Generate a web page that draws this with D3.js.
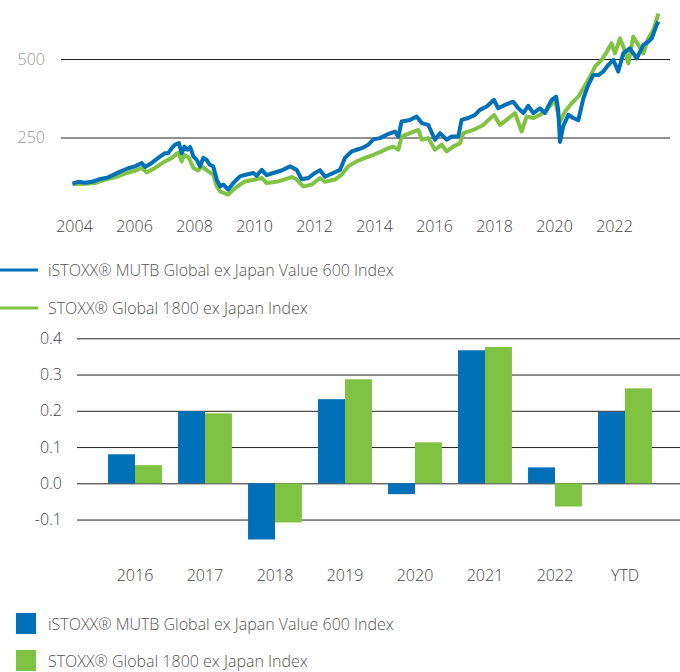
<!DOCTYPE html>
<html>
<head>
<meta charset="utf-8">
<script src="https://cdn.jsdelivr.net/npm/d3@7"></script>
<style>
body { margin: 0; background: #fff; }
text { font-family: "Open Sans", sans-serif; }
</style>
</head>
<body>
<script>
var width = 680;
var height = 672;
var blue = "#0070b9";
var green = "#80c242";

var seriesNames = ["iSTOXX® MUTB Global ex Japan Value 600 Index", "STOXX® Global 1800 ex Japan Index"];

// index levels (decimal years)
var mutbYears = [
  2003.95,2004.14,2004.37,2004.59,2004.81,2005.14,2005.48,2005.81,2006.03,2006.26,
  2006.37,2006.59,2006.81,2007.03,2007.14,2007.26,2007.37,2007.50,2007.59,2007.68,
  2007.79,2007.87,2007.98,2008.09,2008.20,2008.31,2008.42,2008.53,2008.64,2008.76,
  2008.87,2008.98,2009.14,2009.31,2009.53,2009.76,2009.98,2010.09,2010.26,2010.42,
  2010.64,2010.92,2011.20,2011.42,2011.59,2011.81,2012.03,2012.20,2012.37,2012.64,
  2012.87,2013.03,2013.26,2013.42,2013.59,2013.81,2013.98,2014.20,2014.42,2014.70,
  2014.81,2014.92,2015.20,2015.42,2015.59,2015.81,2016.03,2016.20,2016.42,2016.59,
  2016.81,2016.92,2017.14,2017.37,2017.53,2017.76,2018.00,2018.14,2018.37,2018.64,
  2018.81,2018.98,2019.14,2019.31,2019.53,2019.70,2019.92,2020.07,2020.14,2020.20,
  2020.31,2020.48,2020.64,2020.81,2020.98,2021.14,2021.31,2021.48,2021.64,2021.81,
  2021.98,2022.14,2022.31,2022.53,2022.76,2022.98,2023.14,2023.26,2023.42,2023.48];
var mutbValues = [
  103,109,106,109,116,123,139,152,158,169,
  156,169,185,200,200,216,227,232,200,221,
  211,220,190,179,158,185,179,163,158,116,
  94,100,84,105,126,132,137,128,147,130,
  137,145,158,147,117,121,137,146,125,137,
  147,185,206,211,216,227,244,248,259,269,
  253,301,306,317,296,290,243,264,243,253,
  253,306,312,322,338,349,370,343,354,364,
  343,328,351,328,343,328,370,380,338,236,
  287,322,312,305,375,417,449,449,460,481,
  497,460,518,534,502,545,555,566,608,619];

var globalYears = [
  2003.95,2004.37,2004.70,2005.03,2005.37,2005.70,2006.03,2006.26,2006.42,2006.70,
  2007.03,2007.26,2007.48,2007.59,2007.68,2007.83,2007.98,2008.14,2008.26,2008.48,
  2008.64,2008.76,2008.87,2009.14,2009.31,2009.53,2009.70,2010.03,2010.26,2010.42,
  2010.81,2011.26,2011.42,2011.64,2011.92,2012.20,2012.37,2012.70,2012.92,2013.14,
  2013.42,2013.70,2013.98,2014.26,2014.48,2014.64,2014.81,2014.92,2015.20,2015.48,
  2015.59,2015.81,2016.03,2016.26,2016.42,2016.64,2016.87,2016.98,2017.31,2017.64,
  2018.00,2018.20,2018.42,2018.70,2018.92,2019.09,2019.31,2019.53,2019.76,2019.98,
  2020.03,2020.14,2020.20,2020.37,2020.59,2020.81,2020.98,2021.14,2021.37,2021.59,
  2021.76,2021.92,2022.03,2022.20,2022.37,2022.48,2022.64,2022.81,2022.98,2023.14,
  2023.31,2023.48];
var globalValues = [
  102,103,105,116,123,135,144,153,139,153,
  174,185,202,174,195,185,153,145,158,142,
  132,94,78,68,84,100,110,116,121,105,
  110,124,116,94,100,121,109,116,132,158,
  174,185,195,206,216,221,211,253,264,274,
  243,248,211,227,206,221,232,264,274,290,
  322,290,306,328,269,317,312,322,338,364,
  370,322,301,333,359,380,407,433,476,497,
  523,550,518,566,523,486,571,545,518,566,
  592,645];

var lineYTicks = [250, 500];
var lineXTicks = [2004, 2006, 2008, 2010, 2012, 2014, 2016, 2018, 2020, 2022];

// annual returns
var barCategories = ["2016", "2017", "2018", "2019", "2020", "2021", "2022", "YTD"];
var mutbReturns = [0.080, 0.199, -0.155, 0.232, -0.030, 0.367, 0.044, 0.197];
var globalReturns = [0.050, 0.193, -0.108, 0.287, 0.113, 0.376, -0.064, 0.262];
var barYTicks = [-0.1, 0.0, 0.1, 0.2, 0.3, 0.4];

var svg = d3.select("body")
    .append("svg")
    .attr("width", width)
    .attr("height", height)
    .style("display", "block");

// ---------- line chart ----------
var x = d3.scaleLinear().domain([2004, 2022]).range([74, 614]);
var y = d3.scaleLinear().domain([0, 500]).range([216, 59]);

var yAxis = svg.append("g")
    .attr("transform", "translate(61,0)")
    .call(d3.axisLeft(y).tickValues(lineYTicks).tickSize(-609).tickPadding(16));
yAxis.select(".domain").remove();
yAxis.selectAll("line").attr("stroke", "#222");
yAxis.selectAll("text").attr("font-size", "16px").attr("fill", "#999").attr("font-weight", 300);

var xAxis = svg.append("g")
    .attr("transform", "translate(0,221)")
    .call(d3.axisBottom(x).tickValues(lineXTicks).tickFormat(d3.format("d")).tickSize(0).tickPadding(0));
xAxis.select(".domain").remove();
xAxis.selectAll("text").attr("font-size", "16px").attr("fill", "#444").attr("font-weight", 300);

var line = d3.line()
    .x(function(d) { return x(d[0]); })
    .y(function(d) { return y(d[1]); });

svg.append("path")
    .datum(d3.zip(globalYears, globalValues))
    .attr("d", line)
    .attr("fill", "none")
    .attr("stroke", green)
    .attr("stroke-width", 4)
    .attr("stroke-linejoin", "round");

svg.append("path")
    .datum(d3.zip(mutbYears, mutbValues))
    .attr("d", line)
    .attr("fill", "none")
    .attr("stroke", blue)
    .attr("stroke-width", 4)
    .attr("stroke-linejoin", "round");

// line legend
var lineLegend = svg.selectAll(".lineLegend")
    .data(seriesNames)
    .join("g")
    .attr("transform", function(d, i) { return "translate(0," + (270 + i * 38) + ")"; });
lineLegend.append("line")
    .attr("x1", 0).attr("x2", 38)
    .attr("stroke", function(d, i) { return i == 0 ? blue : green; })
    .attr("stroke-width", 3);
lineLegend.append("text")
    .attr("x", 48).attr("y", 6)
    .attr("font-size", "16px")
    .attr("font-weight", 300)
    .attr("fill", "#555")
    .text(function(d) { return d; });

// ---------- bar chart ----------
var xb = d3.scaleBand().domain(barCategories).range([100, 660]).paddingInner(0.23).paddingOuter(0.115);
var xs = d3.scaleBand().domain([0, 1]).range([0, xb.bandwidth()]);
var yb = d3.scaleLinear().domain([-0.1, 0.4]).range([519.55, 338.3]);

var ybAxis = svg.append("g")
    .attr("transform", "translate(77,0)")
    .call(d3.axisLeft(yb).tickValues(barYTicks)
        .tickFormat(function(d) { return d3.format(".1f")(d).replace("−", "-"); })
        .tickSize(-603).tickPadding(15));
ybAxis.select(".domain").remove();
ybAxis.selectAll("line").attr("stroke", "#222");
ybAxis.selectAll("text").attr("font-size", "16px").attr("fill", "#444").attr("font-weight", 300);

var barData = barCategories.map(function(c, i) { return [mutbReturns[i], globalReturns[i]]; });

var groups = svg.selectAll(".barGroup")
    .data(barData)
    .join("g")
    .attr("transform", function(d, i) { return "translate(" + xb(barCategories[i]) + ",0)"; });

groups.selectAll("rect")
    .data(function(d) { return d; })
    .join("rect")
    .attr("x", function(d, j) { return xs(j); })
    .attr("y", function(d) { return yb(Math.max(0, d)); })
    .attr("width", xs.bandwidth())
    .attr("height", function(d) { return Math.abs(yb(d) - yb(0)); })
    .attr("fill", function(d, j) { return j == 0 ? blue : green; });

var xbAxis = svg.append("g")
    .attr("transform", "translate(0,570)")
    .call(d3.axisBottom(xb).tickSize(0).tickPadding(0));
xbAxis.select(".domain").remove();
xbAxis.selectAll("text").attr("font-size", "16px").attr("fill", "#444").attr("font-weight", 300);

// bar legend
var barLegend = svg.selectAll(".barLegend")
    .data(seriesNames)
    .join("g")
    .attr("transform", function(d, i) { return "translate(0," + (624 + i * 37) + ")"; });
barLegend.append("rect")
    .attr("x", 16).attr("y", -11)
    .attr("width", 20).attr("height", 21)
    .attr("fill", function(d, i) { return i == 0 ? blue : green; });
barLegend.append("text")
    .attr("x", 48).attr("y", 6)
    .attr("font-size", "16px")
    .attr("font-weight", 300)
    .attr("fill", "#555")
    .text(function(d) { return d; });
</script>
</body>
</html>
